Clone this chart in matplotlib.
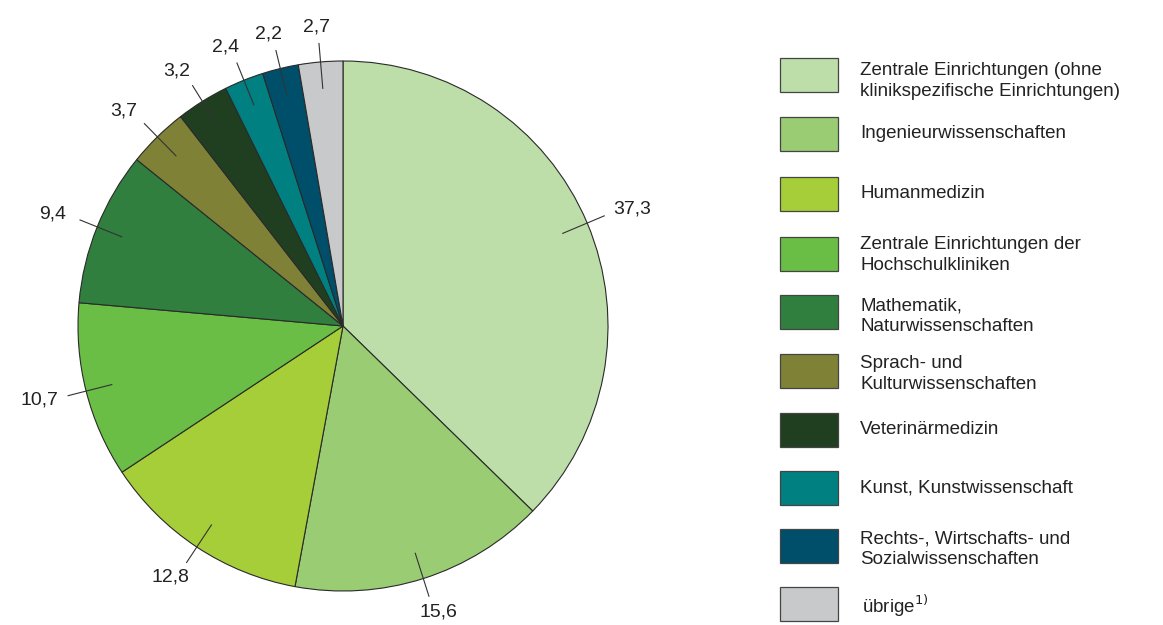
import numpy as np
import matplotlib
matplotlib.use('Agg')
import matplotlib.pyplot as plt
from matplotlib.patches import Rectangle

plt.rcParams['font.family'] = ['Liberation Sans', 'DejaVu Sans']

# data
categories = ['Zentrale Einrichtungen (ohne\nklinikspezifische Einrichtungen)',
              'Ingenieurwissenschaften',
              'Humanmedizin',
              'Zentrale Einrichtungen der\nHochschulkliniken',
              'Mathematik,\nNaturwissenschaften',
              'Sprach- und\nKulturwissenschaften',
              'Veterinärmedizin',
              'Kunst, Kunstwissenschaft',
              'Rechts-, Wirtschafts- und\nSozialwissenschaften',
              'übrige$^{1)}$']
values = [37.3, 15.6, 12.8, 10.7, 9.4, 3.7, 3.2, 2.4, 2.2, 2.7]
labels = ['37,3', '15,6', '12,8', '10,7', '9,4', '3,7', '3,2', '2,4', '2,2', '2,7']
colors = ['#BDDEA8', '#99CC73', '#A6CE39', '#6ABD45', '#307F3F',
          '#7F8136', '#203F20', '#008080', '#004F6A', '#C8C9CB']

W, H = 1163, 625
fig = plt.figure(figsize=(W / 100, H / 100), dpi=100)

R = 265.0
cx, cy = 343.0, 326.0
ax = fig.add_axes([12 / W, 0, 662 / W, 1])
wedges, _ = ax.pie(values, colors=colors, startangle=90, counterclock=False,
                   radius=1.0, wedgeprops=dict(edgecolor='#2a2a2a', linewidth=0.8))
ax.set_xlim((12 - cx) / R, (674 - cx) / R)
ax.set_ylim(-(H - cy) / R, cy / R)
ax.axis('off')

# leader lines and value labels
for w, lab in zip(wedges, labels):
    ang = np.deg2rad((w.theta1 + w.theta2) / 2)
    c, s = np.cos(ang), np.sin(ang)
    ax.plot([0.9 * c, 1.07 * c], [0.9 * s, 1.07 * s], color='#333333', lw=0.8)
    ax.annotate(lab, xy=(1.07 * c, 1.07 * s), xytext=(30 * c, 17 * s),
                textcoords='offset pixels', ha='center', va='center',
                fontsize=14, color='#222222')

# legend
rows = [75, 134, 194, 254, 312, 371, 430, 488, 546, 604]
offs = [6, 0, 0, 1, 4, 3, 0, 0, 3, 2]
for y, o, col, cat in zip(rows, offs, colors, categories):
    fig.patches.append(Rectangle((780 / W, 1 - (y + 17) / H), 58 / W, 34 / H,
                                 transform=fig.transFigure, facecolor=col,
                                 edgecolor='#444444', linewidth=0.9))
    x = 862 if cat.startswith('übrige') else 860
    fig.text(x / W, 1 - (y + o) / H, cat, ha='left', va='center', fontsize=13.5,
             color='#222222', linespacing=1.25)

fig.savefig('out.png', dpi=100)
